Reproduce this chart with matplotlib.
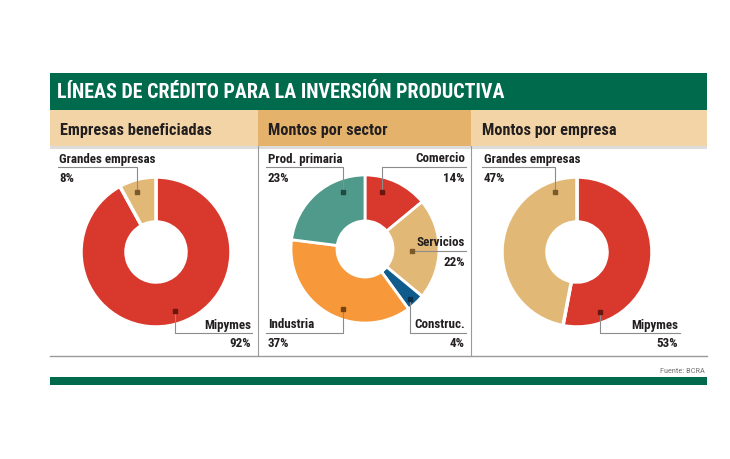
import matplotlib.pyplot as plt
from matplotlib.patches import Rectangle

# data
panel_titles = ['Empresas beneficiadas', 'Montos por sector', 'Montos por empresa']

empresas_labels = ['Mipymes', 'Grandes empresas']
empresas_values = [92, 8]

sector_labels = ['Comercio', 'Servicios', 'Construc.', 'Industria', 'Prod. primaria']
sector_values = [14, 22, 4, 37, 23]

montos_labels = ['Mipymes', 'Grandes empresas']
montos_values = [53, 47]

RED = '#d9392c'
TAN = '#e2b877'
BLUE = '#0f5b8c'
ORANGE = '#f7993b'
TEAL = '#4f9a8a'
GREEN = '#006a4c'
DARK = '#231f20'
LINE = '#8c8c8c'

FONT = ['Roboto Condensed', 'DejaVu Sans']

W, H = 730, 460
fig = plt.figure(figsize=(W / 100, H / 100), dpi=100)
ax = fig.add_axes([0, 0, 1, 1])


def Y(y):
    return H - y


def rect(x0, y0, x1, y1, color, z=1):
    ax.add_patch(Rectangle((x0, Y(y1)), x1 - x0, y1 - y0, facecolor=color,
                           edgecolor='none', zorder=z))


def txt(x, y, s, size=9, ha='left', color=DARK, weight='bold'):
    ax.text(x, Y(y), s, fontsize=size, ha=ha, va='center', color=color,
            fontweight=weight, family=FONT, zorder=6)


# header bands
rect(50, 74, 707, 111, GREEN)
txt(57, 93, 'LÍNEAS DE CRÉDITO PARA LA INVERSIÓN PRODUCTIVA', size=14.4, color='white')
rect(50, 111, 707, 147, '#f3d4a6')
rect(258, 111, 471, 147, '#e4b26b')
rect(50, 147, 707, 150, '#dcdcdc')
txt(60, 130, panel_titles[0], size=11.7)
txt(268, 130, panel_titles[1], size=11.7)
txt(482, 130, panel_titles[2], size=11.7)

# dividers and bottom rule
ax.plot([258, 258], [Y(147), Y(357)], color='#9a9a9a', lw=0.8, zorder=2)
ax.plot([471, 471], [Y(147), Y(357)], color='#9a9a9a', lw=0.8, zorder=2)
ax.plot([50, 707], [Y(357), Y(357)], color='#9a9a9a', lw=1.0, zorder=2)
rect(50, 378, 707, 386, GREEN)
txt(705, 371, 'Fuente: BCRA', size=6, ha='right', color='#777777', weight='normal')


def donut(values, colors, cx, cy, r, hole, explode=None, lw=2.5):
    ax.pie(values, colors=colors, startangle=90, counterclock=False,
           center=(cx, Y(cy)), radius=r, frame=True, explode=explode,
           wedgeprops=dict(width=r - hole, edgecolor='white', linewidth=lw))


def leader(pts, dot_color):
    xs = [p[0] for p in pts]
    ys = [Y(p[1]) for p in pts]
    ax.plot(xs, ys, color=LINE, lw=0.8, zorder=5)
    ax.plot(xs[0], ys[0], marker='s', ms=3.2, color=dot_color, zorder=6)


LS = 9.4

# panel 1
donut(empresas_values, [RED, TAN], 156, 253, 75, 30, explode=[0, 0.04])
txt(59, 159, empresas_labels[1], size=LS)
txt(59, 178, f'{empresas_values[1]}%', size=LS)
leader([(137, 193), (137, 168), (58, 168)], '#7a5a2a')
txt(251, 325, empresas_labels[0], size=LS, ha='right')
txt(251, 344, f'{empresas_values[0]}%', size=LS, ha='right')
leader([(175, 312), (175, 334), (252, 334)], '#6b1510')

# panel 2
donut(sector_values, [RED, TAN, BLUE, ORANGE, TEAL], 365, 250, 74, 28,
      explode=[0.03, 0.03, 0.06, 0.03, 0.03], lw=2)
txt(268, 159, sector_labels[4], size=LS)
txt(268, 178, f'{sector_values[4]}%', size=LS)
leader([(343, 193), (343, 168), (266, 168)], '#1e4a40')
txt(465, 159, sector_labels[0], size=LS, ha='right')
txt(465, 178, f'{sector_values[0]}%', size=LS, ha='right')
leader([(382, 193), (382, 168), (466, 168)], '#6b1510')
txt(465, 243, sector_labels[1], size=LS, ha='right')
txt(465, 262, f'{sector_values[1]}%', size=LS, ha='right')
leader([(412, 252), (466, 252)], '#7a5a2a')
txt(268, 325, sector_labels[3], size=LS)
txt(268, 344, f'{sector_values[3]}%', size=LS)
leader([(343, 310), (343, 334), (266, 334)], '#7a4210')
txt(465, 325, sector_labels[2], size=LS, ha='right')
txt(465, 344, f'{sector_values[2]}%', size=LS, ha='right')
leader([(410, 300), (410, 334), (466, 334)], '#0a2f4a')

# panel 3
donut(montos_values, [RED, TAN], 577, 253, 75, 30, explode=[0, 0.03])
txt(484, 159, montos_labels[1], size=LS)
txt(484, 178, f'{montos_values[1]}%', size=LS)
leader([(555, 193), (555, 168), (482, 168)], '#7a5a2a')
txt(678, 325, montos_labels[0], size=LS, ha='right')
txt(678, 344, f'{montos_values[0]}%', size=LS, ha='right')
leader([(600, 313), (600, 334), (680, 334)], '#6b1510')

ax.set_xlim(0, W)
ax.set_ylim(0, H)
ax.set_aspect('auto')
ax.axis('off')
fig.savefig('out.png', dpi=100, facecolor='white')
